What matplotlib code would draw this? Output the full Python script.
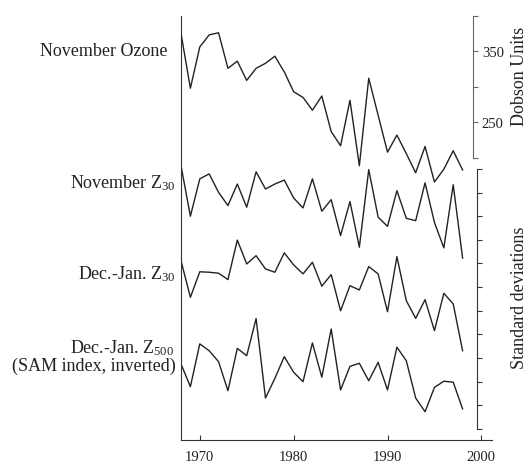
import matplotlib
matplotlib.use('Agg')
import matplotlib.pyplot as plt
import numpy as np

plt.rcParams['font.family'] = ['Liberation Serif', 'DejaVu Serif']
plt.rcParams['mathtext.fontset'] = 'custom'
plt.rcParams['mathtext.rm'] = 'Liberation Serif'
plt.rcParams['mathtext.it'] = 'Liberation Serif:italic'
plt.rcParams['mathtext.bf'] = 'Liberation Serif:bold'

# ---------------- data ----------------
years = list(range(1968, 1999))

ozone_du = [375, 298, 356, 373, 376, 326, 336, 309, 326, 333, 343, 321, 293, 285,
            267, 287, 237, 217, 281, 189, 312, 260, 208, 232, 206, 179, 216, 166,
            184, 210, 183]

# standardized anomalies (standard deviations)
nov_z30 = [1.64, -0.50, 1.08, 1.29, 0.51, -0.05, 0.86, -0.12, 1.38, 0.65, 0.86, 1.03,
           0.27, -0.15, 1.08, -0.29, 0.20, -1.32, 0.12, -1.81, 1.47, -0.54, -0.93, 0.58,
           -0.59, -0.69, 0.91, -0.76, -1.84, 0.83, -2.27]
decjan_z30 = [0.82, -0.73, 0.35, 0.33, 0.29, 0.02, 1.69, 0.68, 1.03, 0.47, 0.33, 1.15,
              0.64, 0.26, 0.75, -0.26, 0.23, -1.30, -0.24, -0.42, 0.57, 0.26, -1.34, 0.99,
              -0.87, -1.62, -0.83, -2.14, -0.56, -1.01, -2.99]
decjan_z500 = [0.25, -0.71, 1.10, 0.81, 0.35, -0.88, 0.91, 0.60, 2.17, -1.19, -0.36, 0.56,
               -0.10, -0.50, 1.14, -0.31, 1.73, -0.85, 0.15, 0.28, -0.46, 0.32, -0.85, 0.96,
               0.39, -1.19, -1.77, -0.74, -0.48, -0.52, -1.65]

x_ticks = [1970, 1980, 1990, 2000]
du_ticks = [200, 250, 300, 350, 400]
du_ticklabels = ['', '250', '', '350', '']
std_ticks = list(range(0, 12))

label_ozone = 'November Ozone'
label_nov = r'November Z$_{30}$'
label_dj30 = r'Dec.-Jan. Z$_{30}$'
label_dj500 = r'Dec.-Jan. Z$_{500}$'
label_dj500b = '(SAM index, inverted)'

# ---------------- layout ----------------
W, H = 527, 464
fig = plt.figure(figsize=(W / 100, H / 100), dpi=100)

L, R, T, B = 181, 491.7, 16.7, 441
ax = fig.add_axes([L / W, (H - B) / H, (R - L) / W, (B - T) / H])

std_lim = (-0.465, 17.48)
du_lim = (-197, 398.1)
offsets = [9.5, 6.3, 2.5]

lc = '#222222'
lw = 1.0

ax.set_xlim(1968, 2001.1)
ax.set_ylim(*std_lim)
for vals, off in zip([nov_z30, decjan_z30, decjan_z500], offsets):
    ax.plot(years, np.array(vals) + off, color=lc, lw=lw)

for s in ['top', 'right']:
    ax.spines[s].set_visible(False)
ax.spines['left'].set_color('#333333')
ax.spines['bottom'].set_color('#333333')
ax.set_yticks([])
ax.set_xticks(x_ticks)
ax.tick_params(axis='x', direction='in', length=3.5, pad=7, labelsize=10.5,
               colors='#333333', labelcolor='#222222')

# ozone on its own scale
ax_oz = ax.twinx()
ax_oz.set_ylim(*du_lim)
ax_oz.plot(years, ozone_du, color=lc, lw=lw)
for s in ['top', 'left', 'bottom']:
    ax_oz.spines[s].set_visible(False)
ax_oz.spines['right'].set_position(('axes', (472.7 - L) / (R - L)))
ax_oz.spines['right'].set_bounds(200, 400)
ax_oz.spines['right'].set_color('#666666')
ax_oz.set_yticks(du_ticks)
ax_oz.set_yticklabels(du_ticklabels)
ax_oz.tick_params(axis='y', direction='out', length=3.6, pad=3, labelsize=10.5,
                  colors='#666666', labelcolor='#222222')

# standard deviation scale
ax_sd = ax.twinx()
ax_sd.set_ylim(*std_lim)
for s in ['top', 'left', 'bottom']:
    ax_sd.spines[s].set_visible(False)
ax_sd.spines['right'].set_position(('axes', (477.3 - L) / (R - L)))
ax_sd.spines['right'].set_bounds(0, 11)
ax_sd.spines['right'].set_color('#333333')
ax_sd.set_yticks(std_ticks)
ax_sd.set_yticklabels([])
ax_sd.tick_params(axis='y', direction='out', length=3.6, colors='#333333')

tc = '#222222'
fs = 13
def ftext(x, y, s, **kw):
    fig.text(x / W, 1 - y / H, s, color=tc, fontsize=fs, **kw)

ftext(168, 52, label_ozone, ha='right', va='center')
ftext(176, 183, label_nov, ha='right', va='center')
ftext(176, 274, label_dj30, ha='right', va='center')
ftext(174, 348, label_dj500, ha='right', va='center')
ftext(176, 366, label_dj500b, ha='right', va='center')

ftext(519, 76, 'Dobson Units', ha='center', va='center', rotation=90)
ftext(519, 298, 'Standard deviations', ha='center', va='center', rotation=90)

fig.savefig('out.png', dpi=100)
